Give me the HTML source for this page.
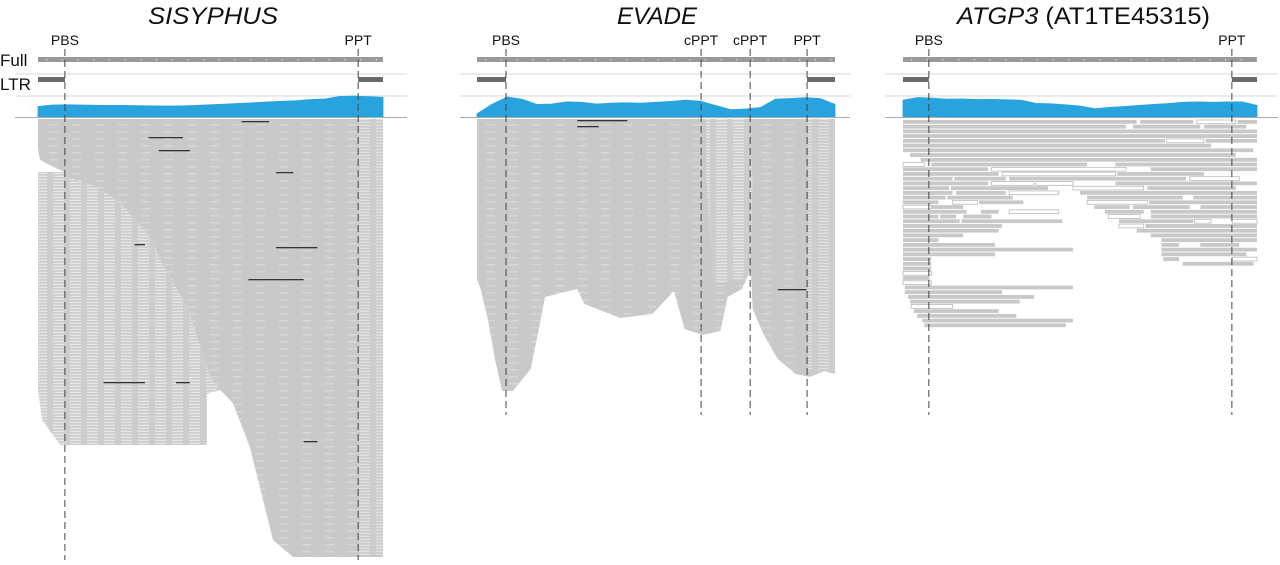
<!DOCTYPE html>
<html><head><meta charset="utf-8"><style>
html,body{margin:0;padding:0;background:#fff;width:1280px;height:565px;overflow:hidden}
svg text{font-family:"Liberation Sans",sans-serif;fill:#111}
</style></head><body>
<svg id="fig" width="1280" height="565" viewBox="0 0 1280 565" xmlns="http://www.w3.org/2000/svg">
<defs>
<pattern id="stripes" width="23" height="7" patternUnits="userSpaceOnUse">
<rect width="23" height="7" fill="#c9c9c9"/><rect x="3" y="5.5" width="9" height="0.8" fill="#e2e2e2"/>
</pattern>
<pattern id="stripesLight" width="17" height="3" patternUnits="userSpaceOnUse">
<rect width="17" height="3" fill="#cdcdcd"/><rect x="2" y="1.8" width="11" height="1" fill="#ececec"/>
</pattern>
</defs>
<text x="148" y="24" font-size="24" font-style="italic" textLength="130" lengthAdjust="spacingAndGlyphs">SISYPHUS</text>
<text x="617" y="24" font-size="24" font-style="italic" textLength="80" lengthAdjust="spacingAndGlyphs">EVADE</text>
<text x="957" y="24" font-size="24" textLength="253" lengthAdjust="spacingAndGlyphs"><tspan font-style="italic">ATGP3</tspan> (AT1TE45315)</text>
<text x="0" y="66" font-size="17">Full</text>
<text x="0" y="90" font-size="17">LTR</text>
<g id="layer"></g>
</svg>
<script>
const panelNames = ['sisyphus','evade','atgp3'];
const panelX0 = [38, 477, 903];
const panelX1 = [383, 835, 1257];
const panelLineL = [15, 460, 885];
const panelLineR = [407, 850, 1278];
const dashBottom = [560, 415, 415];
const featureLabels = [['PBS','PPT'],['PBS','cPPT','cPPT','PPT'],['PBS','PPT']];
const featurePos = [[0.078,0.928],[0.081,0.626,0.763,0.922],[0.073,0.929]];
const coverage = [
 [0.50,0.57,0.58,0.57,0.56,0.55,0.55,0.54,0.53,0.52,0.53,0.55,0.58,0.61,0.65,0.68,0.72,0.75,0.78,0.83,0.86,0.98,1.0,0.97,0.94],
 [0.15,0.60,0.95,0.85,0.60,0.62,0.72,0.70,0.62,0.66,0.68,0.66,0.70,0.74,0.80,0.75,0.55,0.35,0.38,0.45,0.85,0.88,0.92,0.88,0.60],
 [0.80,0.93,0.90,0.85,0.86,0.83,0.84,0.82,0.80,0.65,0.63,0.58,0.52,0.40,0.46,0.50,0.55,0.60,0.64,0.70,0.72,0.70,0.72,0.72,0.55]
];
const covTop = 96, covBase = 117, covMax = 21;
// Read mass outlines: [x (fraction of element), depth (px below first read row)]
const readMass1 = [[0,0],[1,0],[1,438],[0.739,438],[0.681,421],[0.643,368],[0.614,328],[0.565,284],[0.528,271],[0.499,258],[0.470,228],[0.432,188],[0.354,141],[0.333,121],[0.238,84],[0.171,68],[0.084,58],[0.078,53],[0.05,49],[0.006,41],[0,30]];
const readLight1 = [[0,53],[0.078,53],[0.084,58],[0.171,68],[0.238,84],[0.333,121],[0.354,141],[0.432,188],[0.470,228],[0.499,258],[0.528,271],[0.49,275],[0.49,326],[0.064,326],[0.012,301],[0,271]];
const readMass2 = [[0,0],[1,0],[1,255],[0.97,252],[0.93,258],[0.89,255],[0.84,240],[0.80,215],[0.77,190],[0.765,150],[0.74,170],[0.70,178],[0.68,212],[0.63,216],[0.58,210],[0.55,172],[0.49,195],[0.40,199],[0.30,185],[0.28,170],[0.19,178],[0.17,215],[0.15,250],[0.10,272],[0.07,272],[0.05,240],[0.03,200],[0.01,170],[0,160]];
const readLight2 = [[0.64,0],[0.76,0],[0.77,60],[0.765,140],[0.74,160],[0.66,165],[0.64,60]];
const reads3 = [
 [[0,0.66,0],[0.67,0.82,0],[0.83,0.94,1],[0.945,1,0]],
 [[0,0.63,0],[0.65,0.84,0],[0.85,0.97,0]],
 [[0,1,0]],[[0,1,0]],
 [[0,0.74,0],[0.745,0.85,1],[0.855,1,0]],
 [[0,0.87,0]],[[0,0.99,0]],[[0.02,0.94,0]],[[0.05,1,0]],
 [[0,0.06,1],[0.08,0.52,0],[0.60,1,0]],
 [[0,0.24,0],[0.25,0.63,1],[0.70,1,0]],
 [[0,0.27,0],[0.28,0.60,1],[0.605,0.85,0]],
 [[0,0.14,0],[0.145,0.29,0],[0.30,0.80,0],[0.81,0.95,1]],
 [[0,0.24,0],[0.25,0.37,1],[0.375,0.48,1],[0.60,1,0]],
 [[0,0.13,0],[0.135,0.41,0],[0.48,0.68,1],[0.69,0.94,0]],
 [[0,0.14,0],[0.15,0.29,0],[0.30,0.44,1],[0.50,1,0]],
 [[0,0.12,0],[0.125,0.31,0],[0.52,0.79,0],[0.82,1,0]],
 [[0,0.10,0],[0.14,0.21,1],[0.215,0.34,0],[0.52,0.69,1],[0.695,1,0]],
 [[0,0.08,1],[0.08,0.17,0],[0.54,0.64,0],[0.65,0.81,0],[0.84,1,0]],
 [[0,0.18,0],[0.22,0.27,0],[0.30,0.44,1],[0.57,0.68,0],[0.70,1,0]],
 [[0,0.10,0],[0.105,0.15,0],[0.17,0.25,0],[0.58,0.67,1],[0.70,1,0]],
 [[0,0.10,0],[0.10,0.16,0],[0.165,0.45,0],[0.61,0.82,0],[0.823,0.87,1],[0.93,1,1]],
 [[0,0.28,0],[0.61,0.68,1],[0.685,1,0]],
 [[0,0.27,0],[0.66,1,0]],[[0,0.17,0],[0.70,1,0]],[[0,0.10,0],[0.73,1,0]],
 [[0,0.26,0],[0.73,0.78,0],[0.84,0.95,0]],
 [[0,0.48,0],[0.73,1,0]],[[0,0.26,0],[0.73,0.97,0]],
 [[0,0.08,0],[0.735,0.78,0],[0.93,1,1]],
 [[0,0.08,0],[0.79,0.99,0]],
 [[0,0.08,0]],[[0,0.08,1]],[[0,0.075,0]],[[0,0.08,1]],
 [[0.005,0.48,0]],[[0.005,0.28,0]],[[0.014,0.37,0]],[[0.02,0.33,0]],
 [[0.023,0.14,1]],[[0.03,0.27,0]],[[0.04,0.32,0]],[[0.054,0.48,0]],[[0.06,0.46,0]]
];
const rowTop3 = 120, rowStep3 = 4.73, rowH3 = 3.8;

const NS='http://www.w3.org/2000/svg';
const layer=document.getElementById('layer');
function mk(tag,attrs,parent){const e=document.createElementNS(NS,tag);for(const k in attrs)e.setAttribute(k,attrs[k]);(parent||layer).appendChild(e);return e;}
function xs(p,f){return panelX0[p]+f*(panelX1[p]-panelX0[p]);}

const masses=[[readMass1,readLight1],[readMass2,readLight2]];
for(let p=0;p<3;p++){
  const g=mk('g',{});
  
  
  [74,96].forEach(y=>{const l=mk('line',{x1:panelLineL[p],x2:panelLineR[p],y1:y,y2:y,stroke:'#d8d8d8','stroke-width':1},g);
    
    });
  const full=mk('rect',{x:panelX0[p],y:57,width:panelX1[p]-panelX0[p],height:5,fill:'#9a9a9a'},g);
  
  
  for(let x=panelX0[p]+8;x<panelX1[p];x+=15.7){mk('rect',{x:x,y:59,width:1.2,height:1.2,fill:'#e8e8e8'},g);}
  const lf=(featurePos[p][0]), rf=featurePos[p][featurePos[p].length-1];
  [[0,lf],[rf,1]].forEach(([a,b],i)=>{
    const r=mk('rect',{x:xs(p,a),y:77,width:xs(p,b)-xs(p,a),height:5,fill:'#6a6a6a'},g);
    
    
  });
  const cv=coverage[p]; let pts=[];
  const n=cv.length;
  pts.push([xs(p,0),covBase]);
  for(let i=0;i<n;i++){const f=i/(n-1);pts.push([xs(p,f),covBase-cv[i]*covMax]);}
  pts.push([xs(p,1),covBase]);
  const cov=mk('polygon',{points:pts.map(q=>q.join(',')).join(' '),fill:'#29a3dd','stroke':'#29a3dd','stroke-width':0.8,'stroke-linejoin':'round'},g);
  
  
  const base=mk('line',{x1:panelLineL[p],x2:panelLineR[p],y1:117.5,y2:117.5,stroke:'#aaa','stroke-width':1},g);
  
  
  if(p<2){
    const [m,lt]=masses[p];
    const poly=mk('polygon',{points:m.map(q=>xs(p,q[0])+','+(119+q[1])).join(' '),fill:'url(#stripes)'},g);
    
    
    const pl=mk('polygon',{points:lt.map(q=>xs(p,q[0])+','+(119+q[1])).join(' '),fill:'url(#stripesLight)'},g);
    
    
    const rr=mk('rect',{x:xs(p,rf)+1,y:119,width:xs(p,1)-xs(p,rf)-1,height:(p?252:436),fill:'url(#stripesLight)',opacity:0.8},g);
    
    
  } else {
    reads3.forEach((row,ri)=>{
      row.forEach(s=>{
        const r=mk('rect',{x:xs(p,s[0]),y:rowTop3+ri*rowStep3,width:xs(p,s[1])-xs(p,s[0]),height:rowH3,
          fill:s[2]?'#fff':'#c8c8c8',stroke:s[2]?'#b0b0b0':'none','stroke-width':0.7},g);
        
        
      });
    });
  }
  featurePos[p].forEach((f,i)=>{
    const x=xs(p,f);
    const d=mk('line',{x1:x,x2:x,y1:49,y2:dashBottom[p],stroke:'#444','stroke-width':1,'stroke-dasharray':'7,4'},g);
    
    
    const t=mk('text',{x:x,y:45,'font-size':14,'text-anchor':'middle'},g);
    t.textContent=featureLabels[p][i];
    
    
  });
}
const darkReads=[[0,0.59,0.67,2],[0,0.32,0.37,18],[0,0.37,0.42,18],[0,0.35,0.44,31],[0,0.69,0.74,53],[0,0.69,0.81,128],[0,0.61,0.77,160],[0,0.28,0.31,125],[0,0.19,0.31,263],[0,0.40,0.44,263],[0,0.77,0.81,322],[1,0.28,0.42,1],[1,0.28,0.34,7],[1,0.84,0.92,170]];
darkReads.forEach(d=>{const r=mk('rect',{x:xs(d[0],d[1]),y:119+d[3],width:xs(d[0],d[2])-xs(d[0],d[1]),height:1.3,fill:'#333'});
  
  });
</script>
</body></html>
